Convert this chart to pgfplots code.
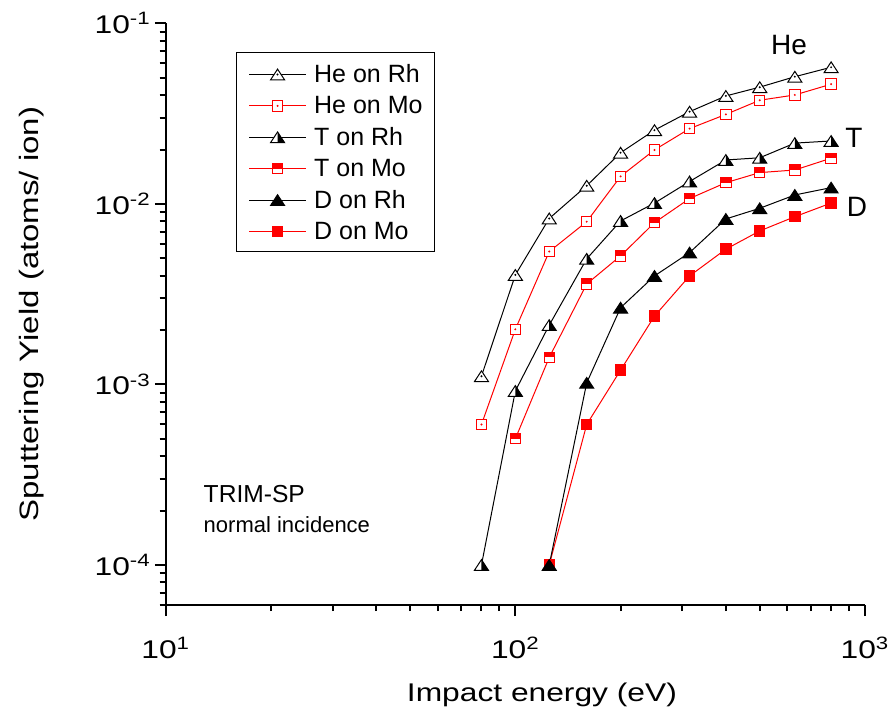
\documentclass[border=0pt]{standalone}
\usepackage{fontspec}
\setmainfont{Liberation Sans}
\newfontfamily\wide{Liberation Sans}[FakeStretch=1.24]
\usepackage{pgfplots}
\pgfplotsset{compat=1.18}

% marker shapes (Origin style)
\newcommand\tripath{%
  \pgfpathmoveto{\pgfqpoint{0pt}{0.765\pgfplotmarksize}}%
  \pgfpathlineto{\pgfqpoint{-\pgfplotmarksize}{-0.765\pgfplotmarksize}}%
  \pgfpathlineto{\pgfqpoint{\pgfplotmarksize}{-0.765\pgfplotmarksize}}%
  \pgfpathclose}
\newcommand\sqpath{%
  \pgfpathrectanglecorners{\pgfqpoint{-\pgfplotmarksize}{-\pgfplotmarksize}}%
    {\pgfqpoint{\pgfplotmarksize}{\pgfplotmarksize}}}
\pgfdeclareplotmark{otri}{%
  \begin{pgfscope}\pgfsetfillcolor{white}\tripath\pgfusepathqfill\end{pgfscope}%
  \tripath\pgfusepathqstroke
  \pgfpathcircle{\pgfpointorigin}{0.2pt}\pgfusepathqstroke}
\pgfdeclareplotmark{htri}{%
  \begin{pgfscope}\pgfsetfillcolor{white}\tripath\pgfusepathqfill\end{pgfscope}%
  \pgfpathmoveto{\pgfqpoint{0pt}{0.765\pgfplotmarksize}}%
  \pgfpathlineto{\pgfqpoint{0pt}{-0.765\pgfplotmarksize}}%
  \pgfpathlineto{\pgfqpoint{\pgfplotmarksize}{-0.765\pgfplotmarksize}}%
  \pgfpathclose\pgfusepathqfill
  \tripath\pgfusepathqstroke}
\pgfdeclareplotmark{ftri}{\tripath\pgfusepathqfillstroke}
\pgfdeclareplotmark{osq}{%
  \begin{pgfscope}\pgfsetfillcolor{white}\sqpath\pgfusepathqfill\end{pgfscope}%
  \sqpath\pgfusepathqstroke
  \pgfpathcircle{\pgfpointorigin}{0.2pt}\pgfusepathqstroke}
\pgfdeclareplotmark{hsq}{%
  \begin{pgfscope}\pgfsetfillcolor{white}\sqpath\pgfusepathqfill\end{pgfscope}%
  \pgfpathrectanglecorners{\pgfqpoint{-\pgfplotmarksize}{0pt}}%
    {\pgfqpoint{\pgfplotmarksize}{\pgfplotmarksize}}\pgfusepathqfill
  \sqpath\pgfusepathqstroke}
\pgfdeclareplotmark{fsq}{\sqpath\pgfusepathqfillstroke}

\definecolor{R}{RGB}{255,0,0}
\pgfplotsset{
  rh/.style={black, line width=0.5pt, mark size=3.5pt,
    mark options={solid, line width=0.5pt, fill=black}},
  mo/.style={R, line width=0.5pt, mark size=2.6pt,
    mark options={solid, line width=0.5pt, fill=R}},
}

\begin{document}
\begin{tikzpicture}
\useasboundingbox (-82.85pt,-57pt) rectangle (362.65pt,302.5pt);
\begin{axis}[
  scale only axis, width=349.65pt, height=290.85pt,
  xmode=log, ymode=log,
  xmin=10, xmax=1000, ymin=6e-5, ymax=0.1,
  axis lines=left, axis line style={-, line width=1pt},
  tick align=outside,
  major tick length=5.5pt, minor tick length=3pt,
  every tick/.style={black, line width=1pt},
  xtick={10,100,1000},
  xticklabels={10\textsuperscript{1},10\textsuperscript{2},10\textsuperscript{3}},
  minor xtick={20,30,40,50,60,70,80,90,200,300,400,500,600,700,800,900},
  ytick={1e-4,1e-3,1e-2,1e-1},
  yticklabels={10\textsuperscript{-4},10\textsuperscript{-3},10\textsuperscript{-2},10\textsuperscript{-1}},
  minor ytick={6e-5,7e-5,8e-5,9e-5,2e-4,3e-4,4e-4,5e-4,6e-4,7e-4,8e-4,9e-4,
    2e-3,3e-3,4e-3,5e-3,6e-3,7e-3,8e-3,9e-3,2e-2,3e-2,4e-2,5e-2,6e-2,7e-2,8e-2,9e-2},
  ticklabel style={font=\wide\fontsize{12.8pt}{14pt}\selectfont},
  xticklabel style={yshift=-7pt},
  yticklabel style={xshift=1.5pt},
  xlabel={Impact energy (eV)},
  xlabel style={font=\wide\fontsize{12.8pt}{14pt}\selectfont,
    at={(axis description cs:0.538,-0.1662)}, anchor=base},
  ylabel={Sputtering Yield (atoms/ ion)},
  ylabel style={font=\wide\fontsize{13.3pt}{15pt}\selectfont,
    at={(axis description cs:-0.1826,0.5)}, anchor=base},
  legend style={at={(axis description cs:0.1005,0.9507)}, anchor=north west,
    draw=black, line width=0.6pt, font=\fontsize{12.5pt}{14pt}\selectfont,
    inner xsep=6pt, inner ysep=4.5pt, row sep=3.8pt,
    nodes={inner sep=0pt, text height=10.5pt, text depth=1.4pt},
    /tikz/every odd column/.append style={column sep=3.8pt}},
  legend cell align=left,
  legend image code/.code={\draw[mark repeat=2,mark phase=2]
    plot coordinates {(0pt,-0.5pt)(14.25pt,-0.5pt)(28.5pt,-0.5pt)};},
]
\addplot[rh, mark=otri] coordinates {(80,1.11e-3)(100,4.04e-3)(125,8.3e-3)(160,1.26e-2)
  (200,1.92e-2)(250,2.56e-2)(315,3.24e-2)(400,3.96e-2)(500,4.43e-2)(630,5.06e-2)(800,5.71e-2)};
\addlegendentry{He on Rh}
\addplot[mo, mark=osq] coordinates {(80,6.0e-4)(100,2.02e-3)(125,5.44e-3)(160,7.97e-3)
  (200,1.42e-2)(250,1.99e-2)(315,2.61e-2)(400,3.13e-2)(500,3.75e-2)(630,4.01e-2)(800,4.6e-2)};
\addlegendentry{He on Mo}
\addplot[rh, mark=htri] coordinates {(80,1.0e-4)(100,9.2e-4)(125,2.13e-3)(160,4.96e-3)
  (200,8.04e-3)(250,1.01e-2)(315,1.33e-2)(400,1.75e-2)(500,1.8e-2)(630,2.17e-2)(800,2.23e-2)};
\addlegendentry{T on Rh}
\addplot[mo, mark=hsq] coordinates {(100,5.0e-4)(125,1.41e-3)(160,3.6e-3)
  (200,5.15e-3)(250,7.87e-3)(315,1.07e-2)(400,1.31e-2)(500,1.49e-2)(630,1.54e-2)(800,1.79e-2)};
\addlegendentry{T on Mo}
% D on Mo drawn first so the D on Rh triangle sits on top at 125 eV
\addplot[mo, mark=fsq, forget plot] coordinates {(125,1.0e-4)(160,6.0e-4)
  (200,1.2e-3)(250,2.39e-3)(315,3.99e-3)(400,5.61e-3)(500,7.08e-3)(630,8.49e-3)(800,1.01e-2)};
\addplot[rh, mark=ftri] coordinates {(125,1.0e-4)(160,1.02e-3)
  (200,2.66e-3)(250,3.99e-3)(315,5.37e-3)(400,8.25e-3)(500,9.45e-3)(630,1.12e-2)(800,1.23e-2)};
\addlegendentry{D on Rh}
\addlegendimage{mo, mark=fsq}
\addlegendentry{D on Mo}

\node[font=\fontsize{14pt}{16pt}\selectfont] at (rel axis cs:0.8913,0.9627) {He};
\node[font=\fontsize{14pt}{16pt}\selectfont] at (rel axis cs:0.9842,0.8028) {T};
\node[font=\fontsize{14pt}{16pt}\selectfont] at (rel axis cs:0.9885,0.6842) {D};
\node[anchor=base west, inner sep=0pt, font=\fontsize{12.3pt}{14pt}\selectfont]
  at (rel axis cs:0.0538,0.1759) {TRIM-SP};
\node[anchor=base west, inner sep=0pt, font=\fontsize{11pt}{13pt}\selectfont]
  at (rel axis cs:0.0538,0.1238) {normal incidence};
\end{axis}
\end{tikzpicture}
\end{document}
